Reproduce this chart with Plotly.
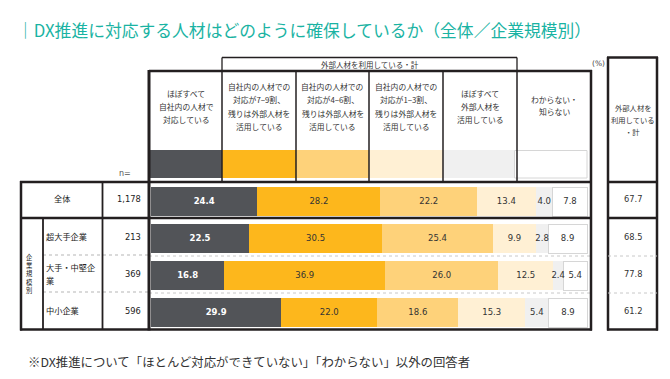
import plotly.graph_objects as go

W, H = 670, 379
JP = "Noto Sans CJK JP"
NUM = "DejaVu Sans"

# ---------------- data ----------------
title_text = "｜DX推進に対応する人材はどのように確保しているか（全体／企業規模別）"
footnote_text = "※DX推進について「ほとんど対応ができていない」「わからない」以外の回答者"
group_header = "外部人材を利用している・計"
unit_label = "(%)"
n_label = "n="
side_label = "企業規模別"

categories = ["全体", "超大手企業", "大手・中堅企業", "中小企業"]
category_lines = [["全体"], ["超大手企業"], ["大手・中堅企", "業"], ["中小企業"]]
n_values = ["1,178", "213", "369", "596"]

series_names = [
    "ほぼすべて自社内の人材で対応している",
    "自社内の人材での対応が7−9割、残りは外部人材を活用している",
    "自社内の人材での対応が4−6割、残りは外部人材を活用している",
    "自社内の人材での対応が1−3割、残りは外部人材を活用している",
    "ほぼすべて外部人材を活用している",
    "わからない・知らない",
]
header_lines = [
    ["ほぼすべて", "自社内の人材で", "対応している"],
    ["自社内の人材での", "対応が7−9割、", "残りは外部人材を", "活用している"],
    ["自社内の人材での", "対応が4−6割、", "残りは外部人材を", "活用している"],
    ["自社内の人材での", "対応が1−3割、", "残りは外部人材を", "活用している"],
    ["ほぼすべて", "外部人材を", "活用している"],
    ["わからない・", "知らない"],
]
total_header_lines = ["外部人材を", "利用している", "・計"]

all_internal = [24.4, 22.5, 16.8, 29.9]
internal_7_9 = [28.2, 30.5, 36.9, 22.0]
internal_4_6 = [22.2, 25.4, 26.0, 18.6]
internal_1_3 = [13.4, 9.9, 12.5, 15.3]
all_external = [4.0, 2.8, 2.4, 5.4]
unknown = [7.8, 8.9, 5.4, 8.9]
external_total = [67.7, 68.5, 77.8, 61.2]

series_values = [all_internal, internal_7_9, internal_4_6, internal_1_3, all_external, unknown]
series_colors = ["#525458", "#FDB71C", "#FED27A", "#FFF0D4", "#F0F0F0", "#FFFFFF"]

# ---------------- helpers ----------------
def px(x):
    return x / W

def py(y):
    return 1 - y / H

shapes = []
annotations = []
DARK = "#231F20"

def line(x0, y0, x1, y1, w=1.5, color=DARK, dash=None):
    ln = dict(color=color, width=w)
    if dash:
        ln["dash"] = dash
    shapes.append(dict(type="line", xref="paper", yref="paper",
                       x0=px(x0), y0=py(y0), x1=px(x1), y1=py(y1), line=ln))

def rect(x0, y0, x1, y1, fill, lc=None, lw=0):
    shapes.append(dict(type="rect", xref="paper", yref="paper",
                       x0=px(x0), y0=py(y0), x1=px(x1), y1=py(y1),
                       fillcolor=fill, line=dict(color=lc or fill, width=lw),
                       layer="below"))

def text(x, y, s, size=8, color="#333333", anchor="center", family=JP, weight="normal"):
    annotations.append(dict(xref="paper", yref="paper", x=px(x), y=py(y), text=s,
                            showarrow=False, xanchor=anchor, yanchor="middle",
                            borderpad=0,
                            font=dict(size=size, color=color, family=family, weight=weight)))

# ---------------- bars ----------------
fig = go.Figure()
for name, vals, col in zip(series_names, series_values, series_colors):
    is_white = col == "#FFFFFF"
    fig.add_trace(go.Bar(
        y=categories, x=vals, name=name, orientation="h",
        marker=dict(color=col, line=dict(color="#D6D6D6" if is_white else col,
                                         width=1 if is_white else 0)),
        textposition="none", hoverinfo="skip", cliponaxis=False,
    ))

# value labels at the centre of each stacked segment (drawn on top of all bars)
cum = [0.0] * len(categories)
for si, vals in enumerate(series_values):
    centers = [c + v / 2 for c, v in zip(cum, vals)]
    cum = [c + v for c, v in zip(cum, vals)]
    fig.add_trace(go.Scatter(
        x=centers, y=categories, mode="text",
        text=[f"{v:.1f}" for v in vals], textposition="middle center",
        textfont=dict(family=NUM, size=8.5,
                      color="#FFFFFF" if si == 0 else "#333333",
                      weight="bold" if si == 0 else "normal"),
        hoverinfo="skip", cliponaxis=False, showlegend=False,
    ))

# ---------------- title / footnote ----------------
text(16, 30, title_text, size=16.8, color="#1AB3A3", anchor="left")
text(27, 362, footnote_text, size=12.4, color="#333333", anchor="left")

# ---------------- header ----------------
col_edges = [150, 222, 296, 369, 443, 517, 591]
swatch_edges = [150, 222, 296, 369, 443, 514, 587]
# group box
line(222, 57.5, 517, 57.5, w=1.3)
line(222, 57.5, 222, 71, w=1.3)
line(517, 57.5, 517, 71, w=1.3)
text(370, 64.5, group_header, size=7.5)
text(598, 63, unit_label, size=7.5, color="#444444", family=NUM)
# header frame
line(149, 71, 592, 71, w=2.5)
for xe in col_edges[1:-1]:
    line(xe, 71, xe, 181, w=1.5)
# swatches
for i, col in enumerate(series_colors):
    x0, x1 = swatch_edges[i], swatch_edges[i + 1]
    if col == "#FFFFFF":
        rect(x0 + 0.5, 150.5, x1, 178, col, lc="#D6D6D6", lw=1)
    else:
        rect(x0, 150, x1, 178, col)
# header texts
for i, lines_ in enumerate(header_lines):
    cx = (col_edges[i] + col_edges[i + 1]) / 2
    if i == 5:
        cx = (517 + 591) / 2
    n = len(lines_)
    if i == 5:
        ys = [99, 112]
    else:
        start = 106.5 - (n - 1) * 13.2 / 2
        ys = [start + k * 13.2 for k in range(n)]
    for s, yy in zip(lines_, ys):
        text(cx, yy, s, size=7.8)

text(125, 173, n_label, size=8, color="#555555", family=NUM)

# ---------------- body table ----------------
row_bottom = 329.5
# horizontal rules
line(20, 182, 592, 182, w=2.5)
line(20, 218, 592, 218, w=2.5)
line(43, 255, 149, 255, w=1, color="#B5B5B5", dash="dot")
line(149, 256, 591, 256, w=1, color="#C8C8C8", dash="dot")
line(43, 292, 149, 292, w=1, color="#B5B5B5", dash="dot")
line(149, 293, 591, 293, w=1, color="#C8C8C8", dash="dot")
line(20, row_bottom, 592, row_bottom, w=2.5)
# vertical rules
line(21, 181, 21, 330.5, w=2.5)
line(43, 218, 43, 330, w=1.8)
line(102.5, 181, 102.5, 330, w=1.8)
line(149, 70, 149, 330.5, w=3)
line(591, 70, 591, 330.5, w=2.5)

# row labels
LBL = "#222222"
text(62, 198, category_lines[0][0], size=8.2, color=LBL)
text(45, 236, category_lines[1][0], size=8.2, color=LBL, anchor="left")
text(45, 267, category_lines[2][0], size=8.2, color=LBL, anchor="left")
text(45, 280, category_lines[2][1], size=8.2, color=LBL, anchor="left")
text(45, 310, category_lines[3][0], size=8.2, color=LBL, anchor="left")
# vertical side label
text(29.5, 274, "<br>".join(side_label), size=6.3, color=LBL)
# n values
n_ys = [199, 237, 274, 311]
for nv, yy in zip(n_values, n_ys):
    text(142, yy, nv, size=8.3, color="#222222", anchor="right", family=NUM)

# ---------------- right total column ----------------
line(608, 57, 608, 330.5, w=2.5)
line(657, 57, 657, 330.5, w=2.5)
line(607, 57.5, 658, 57.5, w=2.5)
line(607, 182, 658, 182, w=2.5)
line(607, 218, 658, 218, w=2.5)
line(608, 256, 657, 256, w=1, color="#C8C8C8", dash="dot")
line(608, 293, 657, 293, w=1, color="#C8C8C8", dash="dot")
line(607, row_bottom, 658, row_bottom, w=2.5)
for s, yy in zip(total_header_lines, [108, 120, 132]):
    text(632.5, yy, s, size=7.3)
for v, yy in zip(external_total, n_ys):
    text(632.5, yy, f"{v:.1f}", size=8.3, color="#333333", family=NUM)

# ---------------- layout ----------------
fig.update_layout(
    width=W, height=H, autosize=False,
    margin=dict(l=0, r=0, t=0, b=0),
    paper_bgcolor="white", plot_bgcolor="rgba(0,0,0,0)",
    barmode="stack", bargap=8 / 37,
    showlegend=False,
    xaxis=dict(domain=[px(151), px(151 + 4.36 * 101)], range=[0, 101], visible=False,
               showgrid=False, zeroline=False, fixedrange=True),
    yaxis=dict(domain=[py(331), py(183)], type="category",
               categoryorder="array", categoryarray=categories,
               range=[3.5, -0.5], visible=False, showgrid=False,
               zeroline=False, fixedrange=True),
    shapes=shapes, annotations=annotations,
)

fig.write_html("out.html", config={"displayModeBar": False},
               post_script="document.body.style.margin='0px';document.body.style.overflow='hidden';")
